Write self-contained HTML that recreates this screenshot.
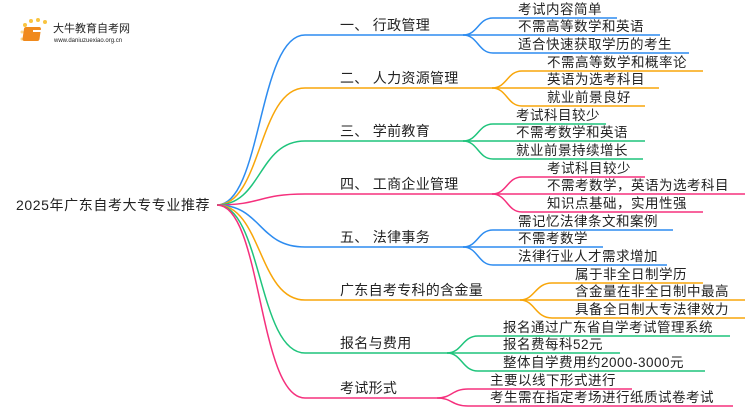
<!DOCTYPE html>
<html><head><meta charset="utf-8"><style>
html,body{margin:0;padding:0;background:#fff;width:750px;height:410px;overflow:hidden}
svg{display:block}
text{font-family:"Liberation Sans","Noto Sans CJK SC",sans-serif;fill:#222}
</style></head><body>
<svg width="750" height="410" viewBox="0 0 750 410" xmlns="http://www.w3.org/2000/svg">
<g fill="none" stroke-width="1.5">
<path d="M217,205 C262,205 258,35 305,35 H463" stroke="#2d8cf0"/>
<path d="M217,205 C262,205 258,88 305,88 H492" stroke="#f8a60a"/>
<path d="M217,205 C262,205 258,141 305,141 H463" stroke="#1fc47c"/>
<path d="M217,205 C262,205 258,194 305,194 H492" stroke="#f5307d"/>
<path d="M217,205 C262,205 258,247 305,247 H463" stroke="#2d8cf0"/>
<path d="M217,205 C262,205 258,300 305,300 H520" stroke="#f8a60a"/>
<path d="M217,205 C262,205 258,353 305,353 H447" stroke="#1fc47c"/>
<path d="M217,205 C262,205 258,398 305,398 H437" stroke="#f5307d"/>
<g stroke="#2d8cf0">
<path d="M463,35 C478,35 478,18 493,18 H617"/><path d="M463,35 H660"/><path d="M463,35 C478,35 478,53 493,53 H689"/>
</g>
<g stroke="#f8a60a">
<path d="M492,88 C507,88 507,71 522,71 H703"/><path d="M492,88 H659"/><path d="M492,88 C507,88 507,106 522,106 H645"/>
</g>
<g stroke="#1fc47c">
<path d="M463,141 C478,141 478,124 493,124 H606"/><path d="M463,141 H645"/><path d="M463,141 C478,141 478,159 493,159 H643"/>
</g>
<g stroke="#f5307d">
<path d="M492,194 C507,194 507,177 522,177 H645"/><path d="M492,194 H745"/><path d="M492,194 C507,194 507,212 522,212 H703"/>
</g>
<g stroke="#2d8cf0">
<path d="M463,247 C478,247 478,230 493,230 H673"/><path d="M463,247 H603"/><path d="M463,247 C478,247 478,265 493,265 H667"/>
</g>
<g stroke="#f8a60a">
<path d="M520,300 C535,300 535,283 552,283 H703"/><path d="M520,300 H745"/><path d="M520,300 C535,300 535,318 552,318 H745"/>
</g>
<g stroke="#1fc47c">
<path d="M447,353 C462,353 462,336 478,336 H730"/><path d="M447,353 H620"/><path d="M447,353 C462,353 462,371 478,371 H705"/>
</g>
<g stroke="#f5307d">
<path d="M437,398 C452,398 452,389 468,389 H632"/><path d="M437,398 C452,398 452,406 468,406 H733"/>
</g>
</g>
<g>
<circle cx="25" cy="25" r="2" fill="#f9c440"/><circle cx="31" cy="21" r="2" fill="#f9c440"/><circle cx="38" cy="20" r="2" fill="#f9c440"/><circle cx="45" cy="22" r="2" fill="#f9c440"/><circle cx="22" cy="32" r="1.5" fill="#fbd98a"/><circle cx="22" cy="39" r="1.5" fill="#fbd98a"/>
<rect x="28" y="27" width="17" height="14" rx="2" fill="#f08a1c" transform="skewX(-8)"/>
<rect x="33" y="30" width="9" height="2" fill="#fff"/>
<text x="53" y="32" font-size="11" fill="#333">大牛教育自考网</text>
<text x="54" y="42" font-size="6" fill="#666">www.daniuzuexiao.org.cn</text>
</g>
<text x="16" y="210" font-size="14" letter-spacing="0.6">2025年广东自考大专专业推荐</text>
<g font-size="14" letter-spacing="0.3">
<text x="340" y="30">一、 行政管理</text>
<text x="340" y="83">二、 人力资源管理</text>
<text x="340" y="136">三、 学前教育</text>
<text x="340" y="189">四、 工商企业管理</text>
<text x="340" y="242">五、 法律事务</text>
<text x="340" y="295">广东自考专科的含金量</text>
<text x="340" y="348">报名与费用</text>
<text x="340" y="393">考试形式</text>
</g>
<g font-size="13.5" letter-spacing="0.5">
<text x="518" y="14">考试内容简单</text>
<text x="518" y="31">不需高等数学和英语</text>
<text x="518" y="49">适合快速获取学历的考生</text>
<text x="547" y="67">不需高等数学和概率论</text>
<text x="547" y="84">英语为选考科目</text>
<text x="547" y="102">就业前景良好</text>
<text x="516" y="120">考试科目较少</text>
<text x="516" y="137">不需考数学和英语</text>
<text x="516" y="155">就业前景持续增长</text>
<text x="547" y="173">考试科目较少</text>
<text x="547" y="190">不需考数学，英语为选考科目</text>
<text x="547" y="208">知识点基础，实用性强</text>
<text x="518" y="226">需记忆法律条文和案例</text>
<text x="518" y="243">不需考数学</text>
<text x="518" y="261">法律行业人才需求增加</text>
<text x="575" y="279">属于非全日制学历</text>
<text x="575" y="296">含金量在非全日制中最高</text>
<text x="575" y="314">具备全日制大专法律效力</text>
<text x="503" y="332">报名通过广东省自学考试管理系统</text>
<text x="503" y="349">报名费每科52元</text>
<text x="503" y="367">整体自学费用约2000-3000元</text>
<text x="490" y="385">主要以线下形式进行</text>
<text x="490" y="402">考生需在指定考场进行纸质试卷考试</text>
</g>
</svg>
</body></html>
